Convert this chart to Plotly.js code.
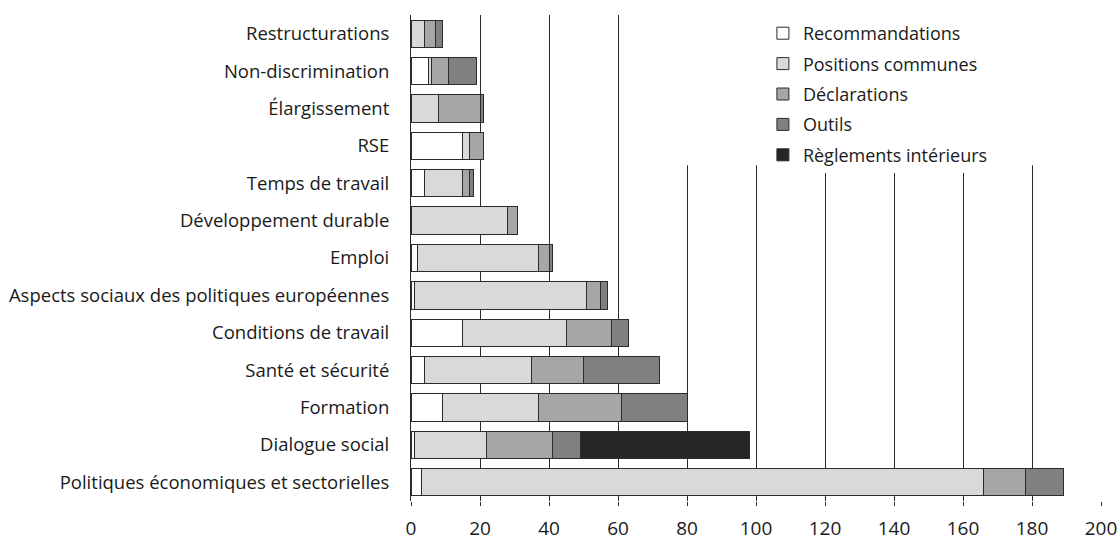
<!DOCTYPE html>
<html>
<head>
<meta charset="utf-8">
<script src="https://cdn.plot.ly/plotly-3.0.1.min.js"></script>
<style>html,body{margin:0;padding:0;background:#fff;}#chart{width:1120px;height:540px;}</style>
</head>
<body>
<div id="chart"></div>
<script>
const categories = [
  "Restructurations",
  "Non-discrimination",
  "Élargissement",
  "RSE",
  "Temps de travail",
  "Développement durable",
  "Emploi",
  "Aspects sociaux des politiques européennes",
  "Conditions de travail",
  "Santé et sécurité",
  "Formation",
  "Dialogue social",
  "Politiques économiques et sectorielles"
];
const recommandations = [0, 5, 0, 15, 4, 0, 2, 1, 15, 4, 9, 1, 3];
const positionsCommunes = [4, 1, 8, 2, 11, 28, 35, 50, 30, 31, 28, 21, 163];
const declarations = [3, 5, 12, 4, 2, 3, 3, 4, 13, 15, 24, 19, 12];
const outils = [2, 8, 1, 0, 1, 0, 1, 2, 5, 22, 19, 8, 11];
const reglementsInterieurs = [0, 0, 0, 0, 0, 0, 0, 0, 0, 0, 0, 49, 0];
const xTicks = [0, 20, 40, 60, 80, 100, 120, 140, 160, 180, 200];

const seriesNames = ["Recommandations", "Positions communes", "Déclarations", "Outils", "Règlements intérieurs"];
const seriesValues = [recommandations, positionsCommunes, declarations, outils, reglementsInterieurs];
const seriesColors = ["#ffffff", "#d9d9d9", "#a6a6a6", "#808080", "#262626"];

const traces = seriesNames.map((name, i) => ({
  type: "bar",
  orientation: "h",
  name: name,
  y: categories,
  x: seriesValues[i],
  legendgroup: "g" + i,
  marker: { color: seriesColors[i], line: { color: "#2b2b2b", width: 1 } },
  hoverinfo: "x+y+name"
}));

const layout = {
  width: 1120,
  height: 540,
  margin: { l: 411, r: 19, t: 15, b: 39 },
  paper_bgcolor: "#ffffff",
  plot_bgcolor: "#ffffff",
  barmode: "stack",
  bargap: 0.27,
  font: { family: "Open Sans, sans-serif", size: 18, color: "#1a1a1a" },
  xaxis: {
    range: [0, 200],
    tickvals: xTicks,
    ticktext: xTicks.map(String),
    showgrid: true,
    gridcolor: "#2b2b2b",
    gridwidth: 1,
    zeroline: false,
    showline: false,
    ticks: "outside",
    ticklen: 4,
    tickcolor: "#2b2b2b",
    ticklabelstandoff: 6,
    tickfont: { size: 19, color: "#1a1a1a" },
    fixedrange: true
  },
  yaxis: {
    type: "category",
    categoryorder: "array",
    categoryarray: categories,
    autorange: "reversed",
    showgrid: false,
    zeroline: false,
    showline: true,
    linecolor: "#2b2b2b",
    linewidth: 1,
    ticks: "",
    ticklabelstandoff: 17,
    tickfont: { size: 18.5, color: "#1a1a1a" },
    fixedrange: true
  },
  legend: {
    x: 0.51,
    xanchor: "left",
    y: 1.0,
    yanchor: "top",
    bgcolor: "#ffffff",
    borderwidth: 0,
    tracegroupgap: 4,
    traceorder: "grouped",
    font: { size: 18, color: "#1a1a1a" }
  },
  shapes: [{
    type: "rect",
    xref: "paper", yref: "paper",
    x0: 0.346, x1: 1.0, y0: 0.691, y1: 1.0,
    fillcolor: "#ffffff",
    line: { width: 0 },
    layer: "above"
  }],
  showlegend: true
};

Plotly.newPlot("chart", traces, layout, { displayModeBar: false, staticPlot: true });
</script>
</body>
</html>
